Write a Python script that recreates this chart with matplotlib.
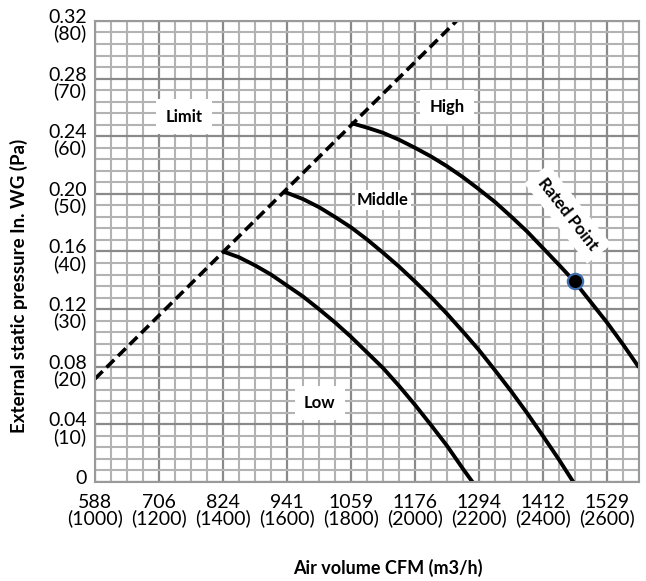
import matplotlib.pyplot as plt
from matplotlib.ticker import MultipleLocator
import matplotlib.transforms as mtransforms

plt.rcParams['font.family'] = ['Lato', 'DejaVu Sans']

# fan curves, air volume (m3/h) vs external static pressure (Pa)
low_x = [1400, 1450, 1500, 1550, 1600, 1650, 1700, 1750, 1800, 1850,
         1900, 1950, 2000, 2050, 2100, 2150, 2180]
low_y = [40.0, 39.0, 37.6, 36.0, 34.1, 32.2, 30.0, 27.7, 25.2, 22.5,
         19.8, 16.7, 13.4, 9.9, 6.3, 2.3, 0]

mid_x = [1590, 1650, 1700, 1750, 1800, 1850, 1900, 1950, 2000, 2050,
         2100, 2150, 2200, 2250, 2300, 2350, 2400, 2450, 2495]
mid_y = [50.4, 49.1, 47.7, 46.0, 44.2, 42.1, 39.8, 37.4, 34.8, 32.1,
         29.2, 26.1, 22.9, 19.4, 15.8, 12.0, 8.0, 3.9, 0]

high_x = [1800, 1850, 1900, 1950, 2000, 2050, 2100, 2150, 2200, 2250,
          2300, 2350, 2400, 2450, 2500, 2550, 2600, 2650, 2700]
high_y = [62.3, 61.5, 60.6, 59.4, 58.0, 56.5, 54.8, 52.9, 50.8, 48.6,
          46.1, 43.5, 40.6, 37.7, 34.7, 31.2, 27.7, 23.9, 19.9]

limit_x = [1000, 2130]
limit_y = [17.9, 80]

rated_x = [2500]
rated_y = [34.8]

xticks = [1000, 1200, 1400, 1600, 1800, 2000, 2200, 2400, 2600]
xlabels = ['588\n(1000)', '706\n(1200)', '824\n(1400)', '941\n(1600)', '1059\n(1800)',
           '1176\n(2000)', '1294\n(2200)', '1412\n(2400)', '1529\n(2600)']
yticks = [0, 10, 20, 30, 40, 50, 60, 70, 80]
ylabels = ['0', '0.04\n(10)', '0.08\n(20)', '0.12\n(30)', '0.16\n(40)', '0.20\n(50)',
           '0.24\n(60)', '0.28\n(70)', '0.32\n(80)']

fig = plt.figure(figsize=(6.46, 5.81), dpi=100)
ax = fig.add_axes([0.147, 0.1704, 0.842, 0.7935])

ax.set_xlim(1000, 2700)
ax.set_ylim(0, 80)
ax.xaxis.set_minor_locator(MultipleLocator(50))
ax.yaxis.set_minor_locator(MultipleLocator(2))
ax.set_xticks(xticks)
ax.set_xticklabels(xlabels, fontsize=14, linespacing=0.88)
ax.set_yticks(yticks)
ax.set_yticklabels(ylabels, fontsize=14, linespacing=0.9)
ax.tick_params(which='both', length=0)
ax.tick_params(axis='x', pad=9)
ax.tick_params(axis='y', pad=6)

# y labels sit with their first line on the gridline
shift = mtransforms.ScaledTranslation(0, 12 / 100, fig.dpi_scale_trans)
for lab in ax.get_yticklabels():
    lab.set_verticalalignment('top')
    lab.set_transform(lab.get_transform() + shift)

ax.grid(which='minor', color='#b3b3b3', lw=1.5)
ax.grid(which='major', color='#8a8a8a', lw=1.6)
ax.set_axisbelow(True)
for s in ax.spines.values():
    s.set_color('#9a9a9a')
    s.set_linewidth(1.5)

ax.plot(limit_x, limit_y, color='black', lw=2.6, ls=(0, (3.0, 1.5)))
ax.plot(low_x, low_y, color='black', lw=2.8, solid_capstyle='butt')
ax.plot(mid_x, mid_y, color='black', lw=2.8, solid_capstyle='butt')
ax.plot(high_x, high_y, color='black', lw=2.8, solid_capstyle='butt')
ax.plot(rated_x, rated_y, 'o', color='black', markersize=11,
        markeredgecolor='#3f6fae', markeredgewidth=1.6, zorder=5)

box = dict(facecolor='white', edgecolor='none', boxstyle='square,pad=0.55')
ax.text(1278, 63.4, 'Limit', fontsize=12, fontweight='bold', ha='center', va='center', bbox=box)
ax.text(2100, 65.1, 'High', fontsize=12, fontweight='bold', ha='center', va='center', bbox=box)
ax.text(1900, 49.0, 'Middle', fontsize=12, fontweight='bold', ha='center', va='center',
        bbox=dict(facecolor='white', edgecolor='none', boxstyle='square,pad=0.12'))
ax.text(1703, 13.7, 'Low', fontsize=12, fontweight='bold', ha='center', va='center', bbox=box)
ax.text(2478, 46.5, 'Rated Point', fontsize=12, fontweight='bold', ha='center', va='center',
        rotation=-52, rotation_mode='anchor',
        bbox=dict(facecolor='white', edgecolor='none', boxstyle='square,pad=0.45'))

ax.set_xlabel('Air volume CFM (m3/h)', fontsize=13, fontweight='bold')
ax.xaxis.set_label_coords(0.539, -0.167)
ax.set_ylabel('External static pressure In. WG (Pa)', fontsize=13.5, fontweight='bold')
ax.yaxis.set_label_coords(-0.123, 0.425)

fig.savefig('out.png', dpi=100)
